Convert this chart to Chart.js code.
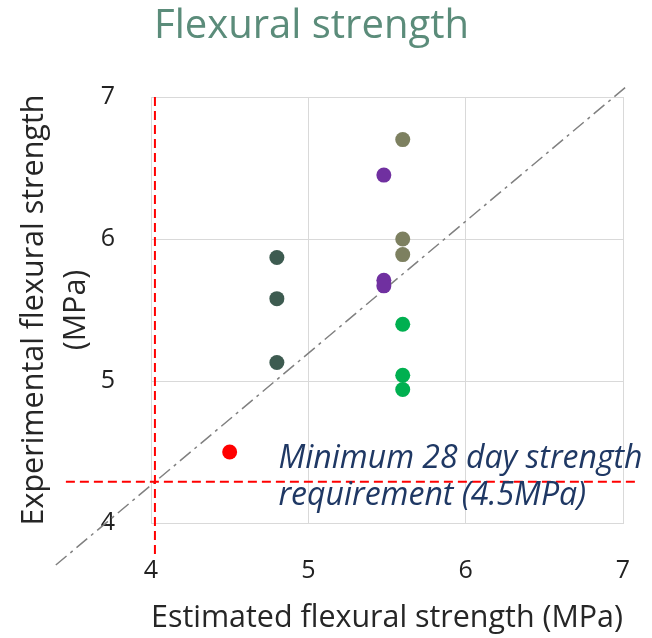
<!DOCTYPE html>
<html>
<head>
<meta charset="utf-8">
<script src="https://cdn.jsdelivr.net/npm/chart.js@4/dist/chart.umd.min.js"></script>
<style>
  html, body { margin: 0; padding: 0; background: #ffffff; }
  #wrap { width: 652px; height: 638px; }
</style>
</head>
<body>
<div id="wrap"><canvas id="chart" width="652" height="638"></canvas></div>
<script>
// Estimated vs experimental flexural strength (MPa), one group per mix
const estimatedDark = [4.80, 4.80, 4.80];
const experimentalDark = [5.87, 5.58, 5.13];
const estimatedOlive = [5.60, 5.60, 5.60];
const experimentalOlive = [6.70, 6.00, 5.89];
const estimatedPurple = [5.48, 5.48, 5.48];
const experimentalPurple = [6.45, 5.71, 5.67];
const estimatedGreen = [5.60, 5.60, 5.60];
const experimentalGreen = [5.40, 5.04, 4.94];
const estimatedRed = [4.50];
const experimentalRed = [4.50];

// Reference lines: equality line and the minimum strength markers
const equalityX = [3.395, 7.025];
const equalityY = [3.704, 7.077];
const minLineX = [3.459, 7.09];
const minLineY = [4.29, 4.29];
const minVertX = [4.025, 4.025];
const minVertY = [7.0, 3.775];

const axisTicks = [4, 5, 6, 7];

const FONT = "'Open Sans'";

const toPoints = (xs, ys) => xs.map((x, i) => ({ x: x, y: ys[i] }));

function pointSet(xs, ys, color) {
  return {
    data: toPoints(xs, ys),
    backgroundColor: color,
    borderWidth: 0,
    pointRadius: 7.5,
    pointHoverRadius: 7.5,
    showLine: false
  };
}

function lineSet(xs, ys, color, width, dash) {
  return {
    data: toPoints(xs, ys),
    borderColor: color,
    borderWidth: width,
    borderDash: dash,
    pointRadius: 0,
    showLine: true,
    fill: false,
    clip: false
  };
}

// Text note next to the minimum strength line
const notePlugin = {
  id: 'minNote',
  afterDatasetsDraw(chart) {
    const { ctx, scales } = chart;
    const x = scales.x.getPixelForValue(4.81);
    ctx.save();
    ctx.font = 'italic 32px ' + FONT;
    ctx.fillStyle = '#1f3864';
    ctx.textAlign = 'left';
    ctx.textBaseline = 'alphabetic';
    ctx.fillText('Minimum 28 day strength', x, scales.y.getPixelForValue(4.387));
    ctx.fillText('requirement (4.5MPa)', x, scales.y.getPixelForValue(4.127));
    ctx.restore();
  }
};

const tickFont = { family: FONT, size: 25 };
const gridColor = '#d9d9d9';

new Chart(document.getElementById('chart'), {
  type: 'scatter',
  data: {
    datasets: [
      pointSet(estimatedDark, experimentalDark, '#3d5b50'),
      pointSet(estimatedOlive, experimentalOlive, '#7d8060'),
      pointSet(estimatedPurple, experimentalPurple, '#7030a0'),
      pointSet(estimatedGreen, experimentalGreen, '#00b050'),
      pointSet(estimatedRed, experimentalRed, '#ff0000'),
      lineSet(minLineX, minLineY, '#ff0000', 2, [9, 5]),
      lineSet(minVertX, minVertY, '#ff0000', 2, [9, 5]),
      lineSet(equalityX, equalityY, '#808080', 1.5, [14, 5, 3, 5])
    ]
  },
  options: {
    responsive: false,
    animation: false,
    layout: { padding: { top: 0, right: 29, bottom: 0, left: 0 } },
    plugins: {
      legend: { display: false },
      tooltip: { enabled: false },
      title: {
        display: true,
        text: 'Flexural strength',
        color: '#5b8c7a',
        font: { family: FONT, size: 40, weight: 'normal', lineHeight: 1.2 },
        padding: { top: 3, bottom: 46 }
      }
    },
    scales: {
      x: {
        type: 'linear',
        min: 4,
        max: 7,
        afterBuildTicks(scale) { scale.ticks = axisTicks.map(v => ({ value: v })); },
        ticks: { font: tickFont, color: '#222222', padding: 0, maxRotation: 0 },
        grid: { color: gridColor, drawTicks: true, tickLength: 33, tickColor: 'rgba(0,0,0,0)', lineWidth: 1 },
        border: { color: gridColor },
        title: {
          display: true,
          text: 'Estimated flexural strength (MPa)',
          color: '#262626',
          font: { family: FONT, size: 30.5, lineHeight: 1.2 },
          padding: { top: 0, bottom: 1 }
        },
        afterFit(scale) { scale.height = 115; }
      },
      y: {
        type: 'linear',
        min: 4,
        max: 7,
        afterBuildTicks(scale) { scale.ticks = axisTicks.map(v => ({ value: v })); },
        ticks: { font: tickFont, color: '#222222', padding: 36 },
        grid: { color: gridColor, drawTicks: false, lineWidth: 1 },
        border: { color: gridColor },
        title: {
          display: true,
          text: ['Experimental flexural strength', '(MPa)'],
          color: '#262626',
          font: { family: FONT, size: 30.5, lineHeight: 1.36 },
          padding: { top: 14, bottom: 0 }
        },
        afterFit(scale) { scale.width = 151; }
      }
    }
  },
  plugins: [notePlugin]
});
</script>
</body>
</html>
